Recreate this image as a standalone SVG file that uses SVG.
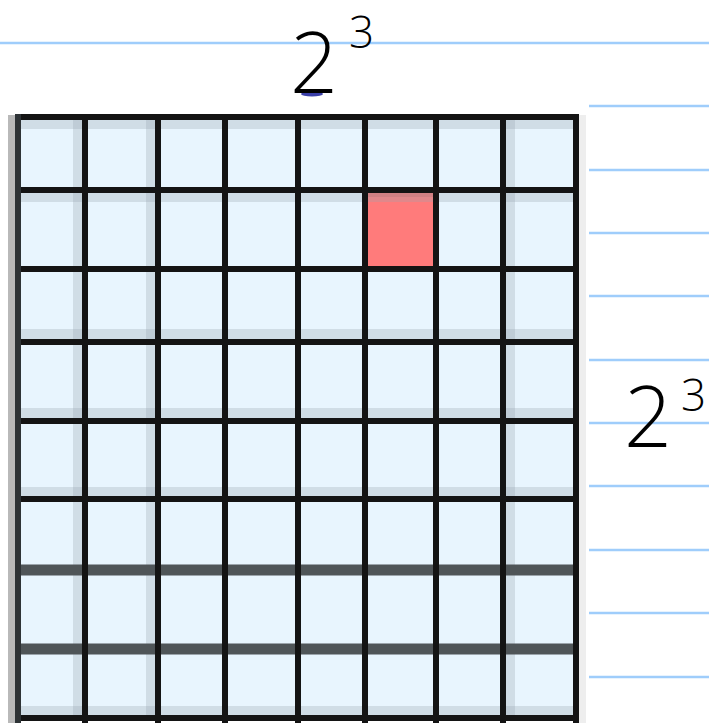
<svg xmlns="http://www.w3.org/2000/svg" width="709" height="723" viewBox="0 0 709 723">
<style>
.rule{stroke:#9fcdfb;stroke-width:2.5}
.gl{stroke:#141414;stroke-width:6}
.halo{stroke:#9aa8b2;stroke-width:12;opacity:0.3}
.gray{stroke:#4f5558;stroke-width:11}
.hw{font-family:"Open Sans","DejaVu Sans",sans-serif;font-weight:300;fill:#000}
</style>
<rect width="709" height="723" fill="#ffffff"/>
<g id="paper-lines">
<line class="rule" x1="0" y1="43" x2="709" y2="43"/>
<line class="rule" x1="589" y1="106" x2="709" y2="106"/>
<line class="rule" x1="589" y1="170" x2="709" y2="170"/>
<line class="rule" x1="589" y1="233" x2="709" y2="233"/>
<line class="rule" x1="589" y1="296" x2="709" y2="296"/>
<line class="rule" x1="589" y1="360" x2="709" y2="360"/>
<line class="rule" x1="589" y1="423" x2="709" y2="423"/>
<line class="rule" x1="589" y1="486" x2="709" y2="486"/>
<line class="rule" x1="589" y1="550" x2="709" y2="550"/>
<line class="rule" x1="589" y1="613" x2="709" y2="613"/>
<line class="rule" x1="589" y1="677" x2="709" y2="677"/>
</g>
<g id="grid">
<rect x="8" y="115" width="8" height="608" fill="#b9b9b9"/>
<rect x="578" y="115" width="8" height="608" fill="#eeeeee"/>
<rect x="16" y="116" width="562" height="604" fill="#e8f5fe"/>
<rect id="highlight-cell" x="367" y="192" width="67" height="75" fill="#ff7b7b"/>
<rect x="367" y="192" width="67" height="5" fill="#d86a6a" opacity="0.6"/>
<g id="halos">
<line class="halo" x1="79" y1="117" x2="79" y2="720"/>
<line class="halo" x1="152" y1="117" x2="152" y2="720"/>
<line class="halo" x1="509" y1="117" x2="509" y2="720"/>
<line class="halo" x1="18" y1="123" x2="578" y2="123"/>
<line class="halo" x1="18" y1="196" x2="578" y2="196"/>
<line class="halo" x1="18" y1="335" x2="578" y2="335"/>
<line class="halo" x1="18" y1="414" x2="578" y2="414"/>
<line class="halo" x1="18" y1="493" x2="578" y2="493"/>
<line class="halo" x1="18" y1="712" x2="578" y2="712"/>
</g>
<g id="grid-lines">
<line class="gray" x1="16" y1="570" x2="578" y2="570"/>
<line class="gray" x1="16" y1="649" x2="578" y2="649"/>
<line class="gl" x1="16" y1="117" x2="578" y2="117"/>
<line class="gl" x1="16" y1="190" x2="578" y2="190"/>
<line class="gl" x1="16" y1="269" x2="578" y2="269"/>
<line class="gl" x1="16" y1="342" x2="578" y2="342"/>
<line class="gl" x1="16" y1="421" x2="578" y2="421"/>
<line class="gl" x1="16" y1="499" x2="578" y2="499"/>
<line class="gl" x1="16" y1="718" x2="578" y2="718"/>
<line class="gl" x1="18" y1="114" x2="18" y2="723" style="stroke:#2e3336"/>
<line class="gl" x1="85" y1="114" x2="85" y2="723"/>
<line class="gl" x1="158" y1="114" x2="158" y2="723"/>
<line class="gl" x1="225" y1="114" x2="225" y2="723"/>
<line class="gl" x1="298" y1="114" x2="298" y2="723"/>
<line class="gl" x1="365" y1="114" x2="365" y2="723"/>
<line class="gl" x1="436" y1="114" x2="436" y2="723"/>
<line class="gl" x1="503" y1="114" x2="503" y2="723"/>
<line class="gl" x1="576" y1="114" x2="576" y2="723"/>
</g>
</g>
<g id="labels">
<ellipse cx="312" cy="94" rx="11" ry="2.5" fill="#3a3fa8"/>
<text class="hw" x="290" y="93" font-size="84">2</text>
<text class="hw" x="349" y="48" font-size="44">3</text>
<text class="hw" x="624" y="447" font-size="84">2</text>
<text class="hw" x="681" y="411" font-size="44">3</text>
</g>
</svg>
